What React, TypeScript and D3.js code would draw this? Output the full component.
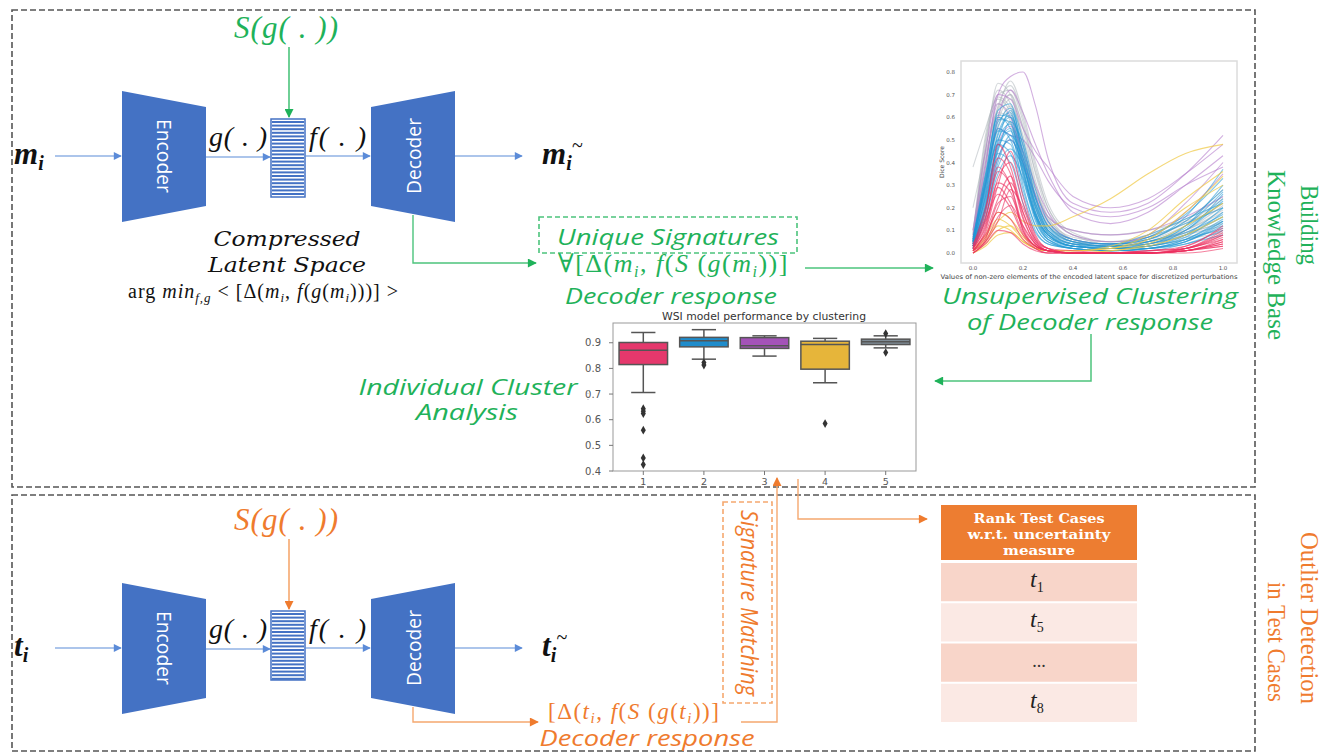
import React from "react";
import * as d3 from "d3";

// ---------- decoder response curves (Dice score vs perturbation value) ----------
const perturbation = [0, 0.05, 0.1, 0.15, 0.2, 0.25, 0.3, 0.4, 0.55, 0.7, 0.85, 1.0];

const grayCurves = [
  [0.38, 0.55, 0.7, 0.72, 0.58, 0.35, 0.18, 0.06, 0.03, 0.04, 0.08, 0.12],
  [0.05, 0.48, 0.72, 0.66, 0.45, 0.25, 0.12, 0.05, 0.03, 0.05, 0.1, 0.18],
  [0.1, 0.4, 0.65, 0.74, 0.6, 0.38, 0.2, 0.08, 0.05, 0.06, 0.12, 0.22],
  [0.08, 0.52, 0.68, 0.62, 0.4, 0.2, 0.09, 0.04, 0.03, 0.04, 0.07, 0.1],
  [0.08, 0.35, 0.6, 0.7, 0.55, 0.32, 0.16, 0.06, 0.04, 0.06, 0.14, 0.28],
  [0.03, 0.45, 0.75, 0.7, 0.48, 0.26, 0.12, 0.05, 0.03, 0.05, 0.09, 0.16],
  [0.05, 0.3, 0.55, 0.65, 0.52, 0.3, 0.15, 0.07, 0.05, 0.08, 0.15, 0.25],
  [0.06, 0.5, 0.66, 0.58, 0.36, 0.18, 0.08, 0.03, 0.02, 0.03, 0.06, 0.09],
  [0.1, 0.42, 0.62, 0.6, 0.44, 0.28, 0.16, 0.1, 0.08, 0.1, 0.14, 0.2],
  [0.06, 0.32, 0.58, 0.68, 0.56, 0.36, 0.2, 0.08, 0.04, 0.05, 0.1, 0.19],
  [0.04, 0.46, 0.64, 0.76, 0.62, 0.4, 0.22, 0.09, 0.05, 0.07, 0.13, 0.24],
  [0.09, 0.38, 0.69, 0.64, 0.42, 0.22, 0.1, 0.04, 0.02, 0.03, 0.08, 0.14],
  [0.2, 0.44, 0.6, 0.57, 0.4, 0.24, 0.13, 0.06, 0.04, 0.05, 0.09, 0.13],
  [0.04, 0.36, 0.63, 0.7, 0.5, 0.29, 0.14, 0.05, 0.03, 0.04, 0.1, 0.21],
];

const purpleCurves = [
  [0.08, 0.4, 0.7, 0.78, 0.8, 0.65, 0.42, 0.22, 0.18, 0.22, 0.35, 0.52],
  [0.1, 0.45, 0.7, 0.68, 0.55, 0.45, 0.38, 0.25, 0.2, 0.24, 0.35, 0.48],
  [0.05, 0.3, 0.6, 0.72, 0.62, 0.48, 0.35, 0.18, 0.13, 0.18, 0.3, 0.43],
  [0.06, 0.32, 0.55, 0.52, 0.5, 0.42, 0.32, 0.2, 0.16, 0.2, 0.3, 0.38],
  [0.04, 0.25, 0.48, 0.56, 0.45, 0.3, 0.18, 0.08, 0.05, 0.07, 0.18, 0.35],
  [0.07, 0.38, 0.66, 0.6, 0.42, 0.25, 0.14, 0.06, 0.04, 0.08, 0.22, 0.4],
  [0.03, 0.2, 0.42, 0.5, 0.4, 0.26, 0.16, 0.1, 0.08, 0.1, 0.16, 0.25],
];

const blueCurves = [
  [0.05, 0.3, 0.58, 0.62, 0.4, 0.18, 0.08, 0.03, 0.02, 0.03, 0.08, 0.2],
  [0.03, 0.25, 0.52, 0.6, 0.45, 0.22, 0.1, 0.04, 0.03, 0.05, 0.1, 0.26],
  [0.06, 0.35, 0.6, 0.55, 0.3, 0.12, 0.05, 0.02, 0.01, 0.02, 0.05, 0.12],
  [0.04, 0.2, 0.45, 0.58, 0.48, 0.25, 0.12, 0.05, 0.03, 0.04, 0.12, 0.3],
  [0.05, 0.28, 0.5, 0.48, 0.28, 0.12, 0.05, 0.02, 0.01, 0.02, 0.06, 0.15],
  [0.02, 0.18, 0.4, 0.52, 0.42, 0.24, 0.12, 0.06, 0.04, 0.06, 0.14, 0.28],
  [0.07, 0.32, 0.63, 0.66, 0.42, 0.18, 0.08, 0.03, 0.02, 0.03, 0.07, 0.18],
  [0.03, 0.22, 0.46, 0.54, 0.36, 0.15, 0.06, 0.02, 0.01, 0.02, 0.04, 0.1],
  [0.04, 0.26, 0.55, 0.5, 0.32, 0.16, 0.08, 0.04, 0.04, 0.08, 0.15, 0.22],
  [0.05, 0.3, 0.48, 0.44, 0.26, 0.1, 0.04, 0.02, 0.01, 0.01, 0.04, 0.08],
  [0.02, 0.15, 0.38, 0.46, 0.38, 0.22, 0.11, 0.05, 0.03, 0.05, 0.11, 0.24],
  [0.06, 0.34, 0.56, 0.64, 0.5, 0.28, 0.14, 0.06, 0.04, 0.06, 0.16, 0.37],
  [0.04, 0.24, 0.44, 0.4, 0.22, 0.09, 0.04, 0.02, 0.01, 0.02, 0.05, 0.14],
  [0.03, 0.2, 0.5, 0.57, 0.34, 0.14, 0.06, 0.03, 0.03, 0.07, 0.13, 0.2],
  [0.05, 0.27, 0.53, 0.61, 0.44, 0.2, 0.09, 0.03, 0.02, 0.04, 0.09, 0.17],
  [0.02, 0.16, 0.35, 0.43, 0.33, 0.17, 0.08, 0.03, 0.02, 0.03, 0.06, 0.11],
  [0.04, 0.29, 0.59, 0.58, 0.37, 0.17, 0.07, 0.03, 0.02, 0.02, 0.05, 0.13],
  [0.03, 0.21, 0.49, 0.63, 0.47, 0.24, 0.1, 0.04, 0.02, 0.03, 0.1, 0.23],
  [0.06, 0.31, 0.54, 0.52, 0.35, 0.16, 0.07, 0.03, 0.02, 0.04, 0.08, 0.16],
  [0.02, 0.19, 0.42, 0.5, 0.39, 0.2, 0.09, 0.04, 0.03, 0.05, 0.12, 0.27],
  [0.05, 0.33, 0.61, 0.6, 0.38, 0.16, 0.06, 0.02, 0.01, 0.02, 0.06, 0.14],
  [0.03, 0.23, 0.47, 0.55, 0.4, 0.21, 0.1, 0.05, 0.04, 0.07, 0.17, 0.33],
];

const yellowCurves = [
  [0.01, 0.06, 0.14, 0.18, 0.14, 0.12, 0.12, 0.16, 0.24, 0.35, 0.44, 0.48],
  [0.01, 0.05, 0.12, 0.1, 0.05, 0.02, 0.01, 0.01, 0.02, 0.06, 0.18, 0.34],
  [0.02, 0.08, 0.18, 0.15, 0.08, 0.03, 0.01, 0.01, 0.02, 0.08, 0.2, 0.3],
  [0.0, 0.04, 0.1, 0.12, 0.07, 0.03, 0.01, 0.0, 0.01, 0.04, 0.12, 0.22],
  [0.01, 0.07, 0.15, 0.12, 0.06, 0.02, 0.01, 0.01, 0.03, 0.1, 0.24, 0.36],
  [0.0, 0.03, 0.08, 0.09, 0.05, 0.02, 0.01, 0.0, 0.01, 0.03, 0.08, 0.16],
];

const redCurves = [
  [0.02, 0.15, 0.38, 0.3, 0.12, 0.04, 0.01, 0.0, 0.0, 0.0, 0.02, 0.08],
  [0.01, 0.1, 0.3, 0.45, 0.25, 0.08, 0.02, 0.0, 0.0, 0.0, 0.01, 0.05],
  [0.03, 0.2, 0.42, 0.35, 0.15, 0.05, 0.02, 0.01, 0.0, 0.01, 0.03, 0.12],
  [0.0, 0.06, 0.22, 0.25, 0.1, 0.03, 0.01, 0.0, 0.0, 0.0, 0.01, 0.03],
  [0.02, 0.12, 0.33, 0.4, 0.22, 0.07, 0.02, 0.0, 0.0, 0.0, 0.02, 0.1],
  [0.01, 0.08, 0.18, 0.15, 0.06, 0.02, 0.0, 0.0, 0.0, 0.0, 0.0, 0.02],
  [0.04, 0.18, 0.48, 0.38, 0.18, 0.06, 0.02, 0.0, 0.0, 0.0, 0.01, 0.06],
  [0.01, 0.05, 0.14, 0.28, 0.2, 0.06, 0.01, 0.0, 0.0, 0.0, 0.02, 0.09],
  [0.02, 0.14, 0.26, 0.2, 0.08, 0.02, 0.0, 0.0, 0.0, 0.0, 0.01, 0.04],
  [0.0, 0.04, 0.1, 0.09, 0.04, 0.01, 0.0, 0.0, 0.0, 0.01, 0.02, 0.07],
  [0.03, 0.16, 0.36, 0.3, 0.1, 0.03, 0.01, 0.0, 0.0, 0.0, 0.03, 0.11],
  [0.01, 0.09, 0.24, 0.34, 0.16, 0.04, 0.01, 0.0, 0.0, 0.0, 0.01, 0.05],
  [0.02, 0.11, 0.29, 0.22, 0.09, 0.03, 0.01, 0.0, 0.0, 0.0, 0.02, 0.06],
  [0.01, 0.07, 0.2, 0.31, 0.18, 0.05, 0.01, 0.0, 0.0, 0.0, 0.01, 0.04],
  [0.02, 0.13, 0.31, 0.27, 0.11, 0.03, 0.01, 0.0, 0.0, 0.01, 0.02, 0.08],
  [0.0, 0.05, 0.16, 0.21, 0.12, 0.04, 0.01, 0.0, 0.0, 0.0, 0.01, 0.03],
];

const curveTicksY = [0, 0.1, 0.2, 0.3, 0.4, 0.5, 0.6, 0.7, 0.8];
const curveTicksX = [0, 0.2, 0.4, 0.6, 0.8, 1.0];

// ---------- WSI model performance by cluster ----------
const clusters = ["1", "2", "3", "4", "5"];
const whiskerLow = [0.706, 0.836, 0.848, 0.744, 0.88];
const q1 = [0.815, 0.884, 0.878, 0.797, 0.893];
const medians = [0.871, 0.908, 0.888, 0.893, 0.904];
const q3 = [0.901, 0.921, 0.92, 0.906, 0.914];
const whiskerHigh = [0.94, 0.951, 0.927, 0.917, 0.927];
const outliers = [
  [0.643, 0.633, 0.624, 0.559, 0.451, 0.425],
  [0.823, 0.813],
  [],
  [0.585],
  [0.936, 0.862],
];
const boxTicks = [0.4, 0.5, 0.6, 0.7, 0.8, 0.9];

// ---------- ranked test cases ----------
const rankHeader = ["Rank Test Cases", "w.r.t. uncertainty", "measure"];
const rankHeaderWidths = [131, 143, 72];
const rankedCases = ["1", "5", "...", "8"];

const clusterColors = ["#e5386c", "#1f8ccb", "#a452b8", "#e6b53a", "#7f8c96"];

const GREEN = "#1fb25a";
const GREEN_LINE = "#4cc47c";
const ORANGE = "#ef7b2e";
const ORANGE_LINE = "#f5a86f";
const BLUE = "#4472c4";
const BLUE_ARROW = "#5b8bd8";
const serif = "'Liberation Serif', 'DejaVu Serif', serif";
const dserif = "'DejaVu Serif', serif";
const sans = "'Open Sans', 'Noto Sans', sans-serif";
const mpl = "'DejaVu Sans', sans-serif";

const Latent = ({ x, y, w, h }: { x: number; y: number; w: number; h: number }) => (
  <g>
    <rect x={x} y={y} width={w} height={h} fill="#fff" stroke={BLUE} strokeWidth={1.5} />
    {d3.range(y + 2, y + h - 1, 3.6).map((yy, i) => (
      <rect key={i} x={x + 1} y={yy} width={w - 2} height={2} fill={BLUE} />
    ))}
  </g>
);

const AutoEncoder = ({ oy, top }: { oy: number; top: boolean }) => {
  const cy = oy + 65;
  const arrow = "url(#ab)";
  const c = top ? GREEN : ORANGE;
  const cl = top ? GREEN_LINE : ORANGE_LINE;
  const mk = top ? "url(#ag)" : "url(#ao)";
  const v = top ? "m" : "t";
  return (
    <g>
      <text x={286} y={oy - 53} textAnchor="middle" fill={c} fontFamily={serif} fontSize={31} fontStyle="italic" textLength={104} lengthAdjust="spacing">
        S(g( . ))
      </text>
      <path d={`M289,${oy - 44} V${oy + 26}`} stroke={cl} strokeWidth={1.6} fill="none" markerEnd={mk} />
      <text x={14} y={cy + 8} fontFamily={serif} fontSize={31} fontStyle="italic" fontWeight="bold" fill="#111">
        {v}
        <tspan dy={6} fontSize={20}>i</tspan>
      </text>
      <path d={`M55,${cy} H121`} stroke={BLUE_ARROW} strokeWidth={1.2} markerEnd={arrow} />
      <polygon points={`122,${oy} 206,${oy + 16} 206,${oy + 115} 122,${oy + 131}`} fill={BLUE} />
      <text transform={`translate(164,${cy}) rotate(90)`} textAnchor="middle" dominantBaseline="central" fill="#fff" fontFamily={sans} fontSize={20} textLength={74} lengthAdjust="spacingAndGlyphs">
        Encoder
      </text>
      <text x={209} y={cy - 10} fontFamily={serif} fontSize={28} fontStyle="italic" fill="#111" textLength={58} lengthAdjust="spacing">
        g( . )
      </text>
      <path d={`M206,${cy + 1} H270`} stroke={BLUE_ARROW} strokeWidth={1.2} markerEnd={arrow} />
      <Latent x={271} y={oy + 28} w={34} h={top ? 78 : 69} />
      <text x={309} y={cy - 10} fontFamily={serif} fontSize={28} fontStyle="italic" fill="#111" textLength={57} lengthAdjust="spacing">
        f( . )
      </text>
      <path d={`M305,${cy} H370`} stroke={BLUE_ARROW} strokeWidth={1.2} markerEnd={arrow} />
      <polygon points={`371,${oy + 16} 455,${oy} 455,${oy + 131} 371,${oy + 115}`} fill={BLUE} />
      <text transform={`translate(413,${cy}) rotate(-90)`} textAnchor="middle" dominantBaseline="central" fill="#fff" fontFamily={sans} fontSize={20} textLength={76} lengthAdjust="spacingAndGlyphs">
        Decoder
      </text>
      <path d={`M455,${cy} H522`} stroke={BLUE_ARROW} strokeWidth={1.2} markerEnd={arrow} />
      <text x={542} y={cy + 8} fontFamily={serif} fontSize={31} fontStyle="italic" fontWeight="bold" fill="#111">
        {v}
        <tspan dy={6} fontSize={20}>i</tspan>
        <tspan dy={-18} fontSize={20} fontWeight="normal">~</tspan>
      </text>
      <path d={`M413,${oy + 124} V${oy + (top ? 172 : 139)} H${top ? 536 : 538}`} stroke={cl} strokeWidth={1.4} fill="none" markerEnd={mk} />
    </g>
  );
};

const CurveChart = () => {
  const x = d3.scaleLinear().domain([0, 1]).range([973, 1223]);
  const y = d3.scaleLinear().domain([0, 0.8]).range([253, 72]);
  const line = d3
    .line<number>()
    .x((_, i) => x(perturbation[i]))
    .y((d) => y(d))
    .curve(d3.curveMonotoneX);
  const groups: [number[][], string, number][] = [
    [grayCurves, "#a9b2b8", 0.5],
    [purpleCurves, "#b47ccb", 0.6],
    [blueCurves, "#1f98d6", 0.55],
    [yellowCurves, "#f0c840", 0.7],
    [redCurves, "#ec2f5f", 0.6],
  ];
  return (
    <g>
      <rect x={961} y={61} width={276} height={202} fill="#fff" stroke="#dcdcdc" strokeWidth={1.5} />
      {groups.map(([curves, col, op], gi) =>
        curves.map((c, i) => (
          <path key={`${gi}-${i}`} d={line(c) || ""} fill="none" stroke={col} strokeOpacity={op} strokeWidth={1.1} />
        ))
      )}
      {curveTicksY.map((t) => (
        <text key={t} x={955} y={y(t) + 2} textAnchor="end" fontFamily={mpl} fontSize={5.5} fill="#555">
          {t.toFixed(1)}
        </text>
      ))}
      {curveTicksX.map((t) => (
        <text key={t} x={x(t)} y={270} textAnchor="middle" fontFamily={mpl} fontSize={5.5} fill="#555">
          {t.toFixed(1)}
        </text>
      ))}
      <text transform="translate(944,162) rotate(-90)" textAnchor="middle" fontFamily={mpl} fontSize={6} fill="#444">
        Dice Score
      </text>
      <text x={1089} y={279} textAnchor="middle" fontFamily={mpl} fontSize={6.5} fill="#444" textLength={297} lengthAdjust="spacingAndGlyphs">
        Values of non-zero elements of the encoded latent space for discretized perturbations
      </text>
    </g>
  );
};

const BoxChart = () => {
  const xb = d3.scaleBand().domain(clusters).range([613, 916]).padding(0);
  const y = d3.scaleLinear().domain([0.4, 0.977]).range([471, 323]);
  const bw = xb.bandwidth() * 0.8;
  const diamond = d3.symbol().type(d3.symbolDiamond).size(22)() || "";
  const edge = "#555";
  return (
    <g>
      <text x={764} y={320} textAnchor="middle" fontFamily={mpl} fontSize={10.5} fill="#333" textLength={204} lengthAdjust="spacingAndGlyphs">
        WSI model performance by clustering
      </text>
      <rect x={613} y={323} width={303} height={148} fill="#fff" stroke="#999" strokeWidth={1} />
      {boxTicks.map((t) => (
        <g key={t}>
          <line x1={609} x2={613} y1={y(t)} y2={y(t)} stroke="#777" />
          <text x={601} y={y(t) + 3.5} textAnchor="end" fontFamily={mpl} fontSize={10} fill="#555">
            {t.toFixed(1)}
          </text>
        </g>
      ))}
      <line x1={588} x2={588} y1={390} y2={402} stroke="#bbb" strokeDasharray="1,2" />
      {clusters.map((c, i) => {
        const cx = (xb(c) || 0) + xb.bandwidth() / 2;
        const cap = bw * 0.5;
        return (
          <g key={c}>
            <line x1={cx} x2={cx} y1={471} y2={475} stroke="#777" />
            <text x={cx} y={485} textAnchor="middle" fontFamily={mpl} fontSize={9.5} fill="#555">
              {c}
            </text>
            <line x1={cx} x2={cx} y1={y(whiskerHigh[i])} y2={y(q3[i])} stroke={edge} strokeWidth={1.5} />
            <line x1={cx} x2={cx} y1={y(q1[i])} y2={y(whiskerLow[i])} stroke={edge} strokeWidth={1.5} />
            <line x1={cx - cap / 2} x2={cx + cap / 2} y1={y(whiskerHigh[i])} y2={y(whiskerHigh[i])} stroke={edge} strokeWidth={1.5} />
            <line x1={cx - cap / 2} x2={cx + cap / 2} y1={y(whiskerLow[i])} y2={y(whiskerLow[i])} stroke={edge} strokeWidth={1.5} />
            <rect x={cx - bw / 2} y={y(q3[i])} width={bw} height={y(q1[i]) - y(q3[i])} fill={clusterColors[i]} stroke={edge} strokeWidth={1.5} />
            <line x1={cx - bw / 2} x2={cx + bw / 2} y1={y(medians[i])} y2={y(medians[i])} stroke={edge} strokeWidth={1.5} />
            {outliers[i].map((o, j) => (
              <path key={j} d={diamond} transform={`translate(${cx},${y(o)})`} fill="#333" />
            ))}
          </g>
        );
      })}
    </g>
  );
};

const RankTable = () => {
  const rows = d3.scaleBand().domain(rankedCases).range([563, 722]).paddingInner(0.05);
  return (
    <g>
      <rect x={941} y={505} width={196} height={55} fill="#ed7d31" />
      {rankHeader.map((h, i) => (
        <text key={h} x={1039} y={523 + i * 16} textAnchor="middle" fontFamily={dserif} fontWeight="bold" fontSize={12.5} fill="#fff" textLength={rankHeaderWidths[i]} lengthAdjust="spacingAndGlyphs">
          {h}
        </text>
      ))}
      {rankedCases.map((r, i) => {
        const yy = rows(r) || 0;
        return (
          <g key={r}>
            <rect x={941} y={yy} width={196} height={rows.bandwidth()} fill={i % 2 === 0 ? "#f8d5c9" : "#fbe9e4"} />
            {r === "..." ? (
              <text x={1039} y={yy + rows.bandwidth() / 2 + 4} textAnchor="middle" fontFamily={serif} fontSize={18} fill="#333">
                ...
              </text>
            ) : (
              <text x={1030} y={yy + rows.bandwidth() / 2 + 5} fontFamily={serif} fontStyle="italic" fontSize={24} fill="#222">
                t<tspan dy={5} fontSize={14} fontStyle="normal">{r}</tspan>
              </text>
            )}
          </g>
        );
      })}
    </g>
  );
};

export default function App() {
  return (
    <svg width={1343} height={754} style={{ position: "absolute", left: 0, top: 0, background: "#fff" }}>
      <defs>
        <marker id="ag" viewBox="0 0 10 10" refX={9} refY={5} markerWidth={11} markerHeight={9} markerUnits="userSpaceOnUse" orient="auto">
          <path d="M0,0L10,5L0,10z" fill={GREEN} />
        </marker>
        <marker id="ao" viewBox="0 0 10 10" refX={9} refY={5} markerWidth={11} markerHeight={9} markerUnits="userSpaceOnUse" orient="auto">
          <path d="M0,0L10,5L0,10z" fill={ORANGE} />
        </marker>
        <marker id="ab" viewBox="0 0 10 10" refX={9} refY={5} markerWidth={10} markerHeight={8} markerUnits="userSpaceOnUse" orient="auto">
          <path d="M0,0L10,5L0,10z" fill={BLUE_ARROW} />
        </marker>
      </defs>

      {/* section frames */}
      <rect x={12} y={10} width={1243} height={477} fill="none" stroke="#555" strokeWidth={1.6} strokeDasharray="6,3" />
      <rect x={12} y={495} width={1243} height={256} fill="none" stroke="#555" strokeWidth={1.6} strokeDasharray="6,3" />

      <AutoEncoder oy={91} top={true} />
      <AutoEncoder oy={583} top={false} />

      {/* compressed latent space label */}
      <text x={287} y={246} textAnchor="middle" fontFamily={dserif} fontStyle="italic" fontSize={21} fill="#111" textLength={147} lengthAdjust="spacingAndGlyphs">
        Compressed
      </text>
      <text x={287} y={272} textAnchor="middle" fontFamily={dserif} fontStyle="italic" fontSize={21} fill="#111" textLength={158} lengthAdjust="spacingAndGlyphs">
        Latent Space
      </text>
      <text x={128} y={298} fontFamily={serif} fontSize={20} letterSpacing={1} fill="#111">
        arg <tspan fontStyle="italic">min</tspan>
        <tspan dy={4} fontSize={13} fontStyle="italic">f,g</tspan>
        <tspan dy={-4}> &lt; [Δ(</tspan>
        <tspan fontStyle="italic">m</tspan>
        <tspan dy={4} fontSize={13} fontStyle="italic">i</tspan>
        <tspan dy={-4}>, </tspan>
        <tspan fontStyle="italic">f</tspan>(<tspan fontStyle="italic">g</tspan>(<tspan fontStyle="italic">m</tspan>
        <tspan dy={4} fontSize={13} fontStyle="italic">i</tspan>
        <tspan dy={-4}>)))] &gt;</tspan>
      </text>

      {/* unique signatures */}
      <rect x={539} y={217} width={258} height={36} fill="none" stroke={GREEN_LINE} strokeWidth={1.6} strokeDasharray="5,3" />
      <text x={668} y={245} textAnchor="middle" fontFamily={sans} fontStyle="italic" fontSize={22} fill={GREEN} textLength={222} lengthAdjust="spacingAndGlyphs">
        Unique Signatures
      </text>
      <text x={558} y={272} fontFamily={serif} fontSize={26} letterSpacing={1.5} fill={GREEN}>
        ∀[Δ(<tspan fontStyle="italic">m</tspan>
        <tspan dy={5} fontSize={16} fontStyle="italic">i</tspan>
        <tspan dy={-5}>, </tspan>
        <tspan fontStyle="italic">f</tspan>(<tspan fontStyle="italic">S</tspan> (<tspan fontStyle="italic">g</tspan>(<tspan fontStyle="italic">m</tspan>
        <tspan dy={5} fontSize={16} fontStyle="italic">i</tspan>
        <tspan dy={-5}>))]</tspan>
      </text>
      <text x={671} y={304} textAnchor="middle" fontFamily={sans} fontStyle="italic" fontSize={22} fill={GREEN} textLength={212} lengthAdjust="spacingAndGlyphs">
        Decoder response
      </text>
      <path d="M805,268 H933" stroke={GREEN_LINE} strokeWidth={1.5} markerEnd="url(#ag)" />

      <CurveChart />

      <text x={1090} y={304} textAnchor="middle" fontFamily={sans} fontStyle="italic" fontSize={22} fill={GREEN} textLength={296} lengthAdjust="spacingAndGlyphs">
        Unsupervised Clustering
      </text>
      <text x={1090} y={330} textAnchor="middle" fontFamily={sans} fontStyle="italic" fontSize={22} fill={GREEN} textLength={246} lengthAdjust="spacingAndGlyphs">
        of Decoder response
      </text>
      <path d="M1091,334 V381 H935" stroke={GREEN_LINE} strokeWidth={1.5} fill="none" markerEnd="url(#ag)" />

      <BoxChart />

      <text x={468} y={395} textAnchor="middle" fontFamily={sans} fontStyle="italic" fontSize={22} fill={GREEN} textLength={219} lengthAdjust="spacingAndGlyphs">
        Individual Cluster
      </text>
      <text x={467} y={420} textAnchor="middle" fontFamily={sans} fontStyle="italic" fontSize={22} fill={GREEN} textLength={102} lengthAdjust="spacingAndGlyphs">
        Analysis
      </text>

      {/* signature matching (test phase) */}
      <text x={548} y={719} fontFamily={serif} fontSize={23} letterSpacing={1.5} fill={ORANGE}>
        [Δ(<tspan fontStyle="italic">t</tspan>
        <tspan dy={4} fontSize={15} fontStyle="italic">i</tspan>
        <tspan dy={-4}>, </tspan>
        <tspan fontStyle="italic">f</tspan>(<tspan fontStyle="italic">S</tspan> (<tspan fontStyle="italic">g</tspan>(<tspan fontStyle="italic">t</tspan>
        <tspan dy={4} fontSize={15} fontStyle="italic">i</tspan>
        <tspan dy={-4}>))]</tspan>
      </text>
      <text x={647} y={746} textAnchor="middle" fontFamily={sans} fontStyle="italic" fontSize={21} fill={ORANGE} textLength={215} lengthAdjust="spacingAndGlyphs">
        Decoder response
      </text>
      <rect x={723} y={502} width={49} height={201} fill="none" stroke={ORANGE_LINE} strokeWidth={1.6} strokeDasharray="5,3" />
      <text transform="translate(741,603) rotate(90)" textAnchor="middle" fontFamily={sans} fontStyle="italic" fontSize={23} fill={ORANGE} textLength={186} lengthAdjust="spacingAndGlyphs">
        Signature Matching
      </text>
      <path d="M741,722 H777 V478" stroke={ORANGE_LINE} strokeWidth={1.4} fill="none" markerEnd="url(#ao)" />
      <path d="M798,479 V519 H927" stroke={ORANGE_LINE} strokeWidth={1.4} fill="none" markerEnd="url(#ao)" />

      <RankTable />

      {/* phase labels */}
      <text transform="translate(1301,225) rotate(90)" textAnchor="middle" fontFamily={serif} fontSize={26} fill={GREEN} textLength={80} lengthAdjust="spacingAndGlyphs">
        Building
      </text>
      <text transform="translate(1268,255) rotate(90)" textAnchor="middle" fontFamily={serif} fontSize={26} fill={GREEN} textLength={170} lengthAdjust="spacingAndGlyphs">
        Knowledge Base
      </text>
      <text transform="translate(1301,618) rotate(90)" textAnchor="middle" fontFamily={serif} fontSize={26} fill={ORANGE} textLength={172} lengthAdjust="spacingAndGlyphs">
        Outlier Detection
      </text>
      <text transform="translate(1268,642) rotate(90)" textAnchor="middle" fontFamily={serif} fontSize={26} fill={ORANGE} textLength={120} lengthAdjust="spacingAndGlyphs">
        in Test Cases
      </text>
    </svg>
  );
}
